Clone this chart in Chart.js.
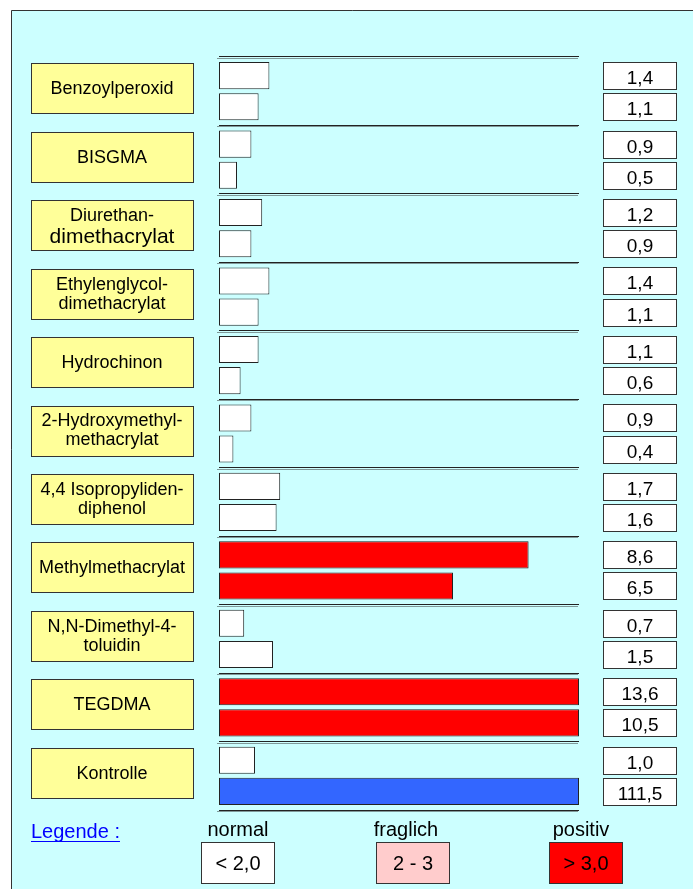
<!DOCTYPE html>
<html>
<head>
<meta charset="utf-8">
<script src="https://cdn.jsdelivr.net/npm/chart.js@4.4.0/dist/chart.umd.min.js"></script>
<style>
  html, body { margin: 0; padding: 0; background: #ffffff; }
  #wrap { width: 693px; height: 889px; position: relative; }
</style>
</head>
<body>
<div id="wrap"><canvas id="chart"></canvas></div>
<script>
// categories (label lines as shown in the yellow boxes)
const categories = [
  ['Benzoylperoxid'],
  ['BISGMA'],
  ['Diurethan-', 'dimethacrylat'],
  ['Ethylenglycol-', 'dimethacrylat'],
  ['Hydrochinon'],
  ['2-Hydroxymethyl-', 'methacrylat'],
  ['4,4 Isopropyliden-', 'diphenol'],
  ['Methylmethacrylat'],
  ['N,N-Dimethyl-4-', 'toluidin'],
  ['TEGDMA'],
  ['Kontrolle']
];
// first and second measurement per substance
const valuesA = [1.4, 0.9, 1.2, 1.4, 1.1, 0.9, 1.7, 8.6, 0.7, 13.6, 1.0];
const valuesB = [1.1, 0.5, 0.9, 1.1, 0.6, 0.4, 1.6, 6.5, 1.5, 10.5, 111.5];
const xMax = 10;
const legendLabels = ['normal', 'fraglich', 'positiv'];
const legendRanges = ['< 2,0', '2 - 3', '> 3,0'];

const fontFam = '"Liberation Sans", Arial, sans-serif';

function colorFor(v) {
  if (v > 3) return '#ff0000';
  if (v >= 2) return '#ffcccc';
  return '#ffffff';
}
function fmt(v) { return v.toFixed(1).replace('.', ','); }

const colorsA = valuesA.map(colorFor);
const colorsB = valuesB.map(colorFor);
colorsB[colorsB.length - 1] = '#3366ff'; // Kontrolle reference bar

/*background panel, label boxes, value boxes, legend*/
const decoPlugin = {
  id: 'deco',
  beforeDraw(chart) {
    const ctx = chart.ctx;
    ctx.save();
    ctx.fillStyle = '#ccffff';
    ctx.fillRect(11, 10, 682, 879);
    ctx.strokeStyle = '#333333';
    ctx.lineWidth = 1;
    ctx.beginPath();
    ctx.moveTo(11.5, 889);
    ctx.lineTo(11.5, 10.5);
    ctx.lineTo(693, 10.5);
    ctx.stroke();
    ctx.restore();
  },
  afterDraw(chart) {
    const ctx = chart.ctx;
    const yScale = chart.scales.y;
    ctx.save();
    ctx.lineWidth = 1;
    ctx.strokeStyle = '#333333';
    ctx.textAlign = 'center';
    ctx.textBaseline = 'middle';

    // yellow label boxes
    categories.forEach((lines, i) => {
      const cy = yScale.getPixelForValue(i) - 3;
      const top = Math.round(cy - 25) + 0.5;
      ctx.fillStyle = '#ffff99';
      ctx.fillRect(31.5, top, 162, 50);
      ctx.strokeRect(31.5, top, 162, 50);
      ctx.fillStyle = '#000000';
      if (lines.length === 1) {
        ctx.font = '18px ' + fontFam;
        ctx.fillText(lines[0], 112, cy + 1);
      } else {
        const big = lines[0] === 'Diurethan-';
        ctx.font = '18px ' + fontFam;
        ctx.fillText(lines[0], 112, cy - 9);
        ctx.font = (big ? '21px ' : '18px ') + fontFam;
        ctx.fillText(lines[1], 112, cy + (big ? 12 : 10));
      }
    });

    // value boxes next to each bar
    [valuesA, valuesB].forEach((vals, d) => {
      const meta = chart.getDatasetMeta(d);
      meta.data.forEach((bar, i) => {
        const top = Math.round(bar.y - bar.height / 2) + 0.5;
        const h = Math.round(bar.height);
        ctx.fillStyle = '#ffffff';
        ctx.fillRect(603.5, top, 73, h);
        ctx.strokeRect(603.5, top, 73, h);
        ctx.fillStyle = '#000000';
        ctx.font = '19px ' + fontFam;
        ctx.fillText(fmt(vals[i]), 640, top + h / 2 + 3);
      });
    });

    // legend
    ctx.textAlign = 'left';
    ctx.textBaseline = 'alphabetic';
    ctx.font = '20px ' + fontFam;
    ctx.fillStyle = '#0000ff';
    ctx.fillText('Legende :', 31, 838);
    const w = ctx.measureText('Legende :').width;
    ctx.strokeStyle = '#0000ff';
    ctx.beginPath();
    ctx.moveTo(31, 841.5);
    ctx.lineTo(31 + w, 841.5);
    ctx.stroke();

    const boxCenters = [238, 413, 586];
    const textCenters = [238, 406, 581];
    const fills = ['#ffffff', '#ffcccc', '#ff0000'];
    ctx.textAlign = 'center';
    ctx.strokeStyle = '#333333';
    legendLabels.forEach((lab, k) => {
      ctx.fillStyle = '#000000';
      ctx.fillText(lab, textCenters[k], 836);
      ctx.fillStyle = fills[k];
      ctx.fillRect(boxCenters[k] - 36.5, 842.5, 73, 41);
      ctx.strokeRect(boxCenters[k] - 36.5, 842.5, 73, 41);
      ctx.fillStyle = '#000000';
      ctx.fillText(legendRanges[k], boxCenters[k], 870);
    });
    ctx.restore();
  }
};

/*separator shadow lines under each grid line*/
const shadowPlugin = {
  id: 'shadow',
  beforeDatasetsDraw(chart) {
    const ctx = chart.ctx;
    const yScale = chart.scales.y;
    const a = chart.chartArea;
    ctx.save();
    ctx.strokeStyle = '#7f9999';
    ctx.lineWidth = 1;
    for (let i = 0; i <= categories.length; i++) {
      const y = Math.round(yScale.getPixelForValue(i - 0.5)) + 1.5;
      ctx.beginPath();
      ctx.moveTo(a.left - 2, y);
      ctx.lineTo(a.right - 1, y);
      ctx.stroke();
    }
    ctx.restore();
  }
};

const ctx = document.getElementById('chart');
new Chart(ctx, {
  type: 'bar',
  data: {
    labels: categories.map(l => l.join(' ')),
    datasets: [
      {
        data: valuesA.map(v => Math.min(v, xMax)),
        backgroundColor: colorsA,
        borderColor: '#222222',
        borderWidth: 1,
        borderSkipped: false,
        categoryPercentage: 0.91,
        barPercentage: 0.87
      },
      {
        data: valuesB.map(v => Math.min(v, xMax)),
        backgroundColor: colorsB,
        borderColor: '#222222',
        borderWidth: 1,
        borderSkipped: false,
        categoryPercentage: 0.91,
        barPercentage: 0.87
      }
    ]
  },
  options: {
    indexAxis: 'y',
    responsive: true,
    maintainAspectRatio: false,
    animation: false,
    layout: { padding: { left: 219, right: 114, top: 57, bottom: 79 } },
    plugins: {
      legend: { display: false },
      tooltip: { enabled: false }
    },
    scales: {
      x: { display: false, min: 0, max: xMax },
      y: {
        display: true,
        offset: true,
        ticks: { display: false },
        border: { display: false },
        grid: { offset: true, drawTicks: false, color: '#222222', lineWidth: 1 },
        afterFit: s => { s.width = 0; }
      }
    }
  },
  plugins: [decoPlugin, shadowPlugin]
});
</script>
</body>
</html>
